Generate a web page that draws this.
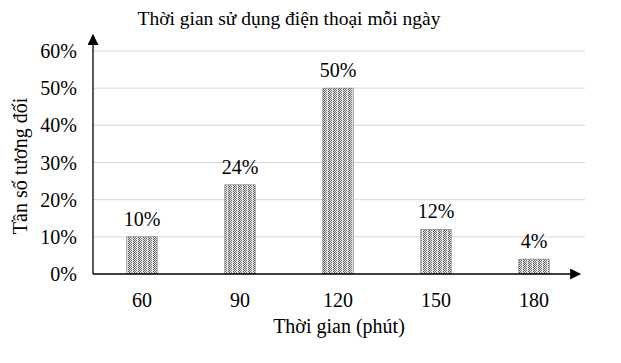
<!DOCTYPE html>
<html>
<head>
<meta charset="utf-8">
<script src="https://cdn.jsdelivr.net/npm/d3@7"></script>
<style>
  body { margin: 0; background: #fff; }
</style>
</head>
<body>
<div id="chart"></div>
<script>
const categories = ['60', '90', '120', '150', '180']
const values = [10, 24, 50, 12, 4]
const yTicks = [0, 10, 20, 30, 40, 50, 60]
const title = 'Thời gian sử dụng điện thoại mỗi ngày'
const xTitle = 'Thời gian (phút)'
const yTitle = 'Tần số tương đối'

const W = 621
const H = 363
const margin = { top: 51, left: 93, right: 36, bottom: 89 }
const width = W - margin.left - margin.right
const height = H - margin.top - margin.bottom
const serif = "'Liberation Serif', 'DejaVu Serif', serif"

const svg = d3
  .select('#chart')
  .append('svg')
  .attr('width', W)
  .attr('height', H)
  .attr('font-family', serif)

// checkered fill like the original
const defs = svg.append('defs')
const pat = defs
  .append('pattern')
  .attr('id', 'dots')
  .attr('patternUnits', 'userSpaceOnUse')
  .attr('width', 5)
  .attr('height', 2)
pat.append('rect').attr('width', 5).attr('height', 2).attr('fill', '#e6e6e6')
pat.append('rect').attr('x', 0).attr('y', 0).attr('width', 1).attr('height', 1).attr('fill', '#555')
pat.append('rect').attr('x', 1).attr('y', 1).attr('width', 1).attr('height', 1).attr('fill', '#555')
pat.append('rect').attr('x', 2).attr('y', 0).attr('width', 1).attr('height', 1).attr('fill', '#777')
pat.append('rect').attr('x', 3).attr('y', 1).attr('width', 1).attr('height', 1).attr('fill', '#777')

const g = svg
  .append('g')
  .attr('transform', `translate(${margin.left},${margin.top})`)

const x = d3
  .scaleBand()
  .domain(categories)
  .range([0, width - 2])
  .paddingInner(0.69)
  .paddingOuter(0.345)

const y = d3
  .scaleLinear()
  .domain([0, 60])
  .range([height, 0])

// gridlines
g.selectAll('.grid')
  .data(yTicks.filter(d => d > 0))
  .enter()
  .append('line')
  .attr('class', 'grid')
  .attr('x1', 0)
  .attr('x2', width)
  .attr('y1', d => y(d))
  .attr('y2', d => y(d))
  .attr('stroke', '#d9d9d9')
  .attr('stroke-width', 1)

// y tick labels
g.selectAll('.ytick')
  .data(yTicks)
  .enter()
  .append('text')
  .attr('class', 'ytick')
  .attr('x', -16)
  .attr('y', d => y(d))
  .attr('dy', '0.35em')
  .attr('text-anchor', 'end')
  .attr('font-family', serif)
  .attr('font-size', 20)
  .text(d => d + '%')

// bars
g.selectAll('.bar')
  .data(values)
  .enter()
  .append('rect')
  .attr('class', 'bar')
  .attr('x', (d, i) => x(categories[i]))
  .attr('y', d => y(d))
  .attr('width', x.bandwidth())
  .attr('height', d => height - y(d))
  .attr('fill', 'url(#dots)')
  .attr('stroke', '#777')
  .attr('stroke-width', 0.6)

// value labels
g.selectAll('.val')
  .data(values)
  .enter()
  .append('text')
  .attr('class', 'val')
  .attr('x', (d, i) => x(categories[i]) + x.bandwidth() / 2)
  .attr('y', d => y(d) - 11)
  .attr('text-anchor', 'middle')
  .attr('font-family', serif)
  .attr('font-size', 20)
  .text(d => d + '%')

// x tick labels
g.selectAll('.xtick')
  .data(categories)
  .enter()
  .append('text')
  .attr('class', 'xtick')
  .attr('x', d => x(d) + x.bandwidth() / 2)
  .attr('y', height + 33)
  .attr('text-anchor', 'middle')
  .attr('font-family', serif)
  .attr('font-size', 20)
  .text(d => d)

// axes with arrows
defs
  .append('marker')
  .attr('id', 'arrow')
  .attr('viewBox', '0 0 10 10')
  .attr('refX', 9)
  .attr('refY', 5)
  .attr('markerWidth', 11)
  .attr('markerHeight', 11)
  .attr('markerUnits', 'userSpaceOnUse')
  .attr('orient', 'auto')
  .append('path')
  .attr('d', 'M0,0 L10,5 L0,10 Z')
  .attr('fill', '#000')

g.append('line')
  .attr('x1', 0)
  .attr('x2', 0)
  .attr('y1', height)
  .attr('y2', -16)
  .attr('stroke', '#000')
  .attr('stroke-width', 1.3)
  .attr('marker-end', 'url(#arrow)')

g.append('line')
  .attr('x1', 0)
  .attr('x2', width - 5)
  .attr('y1', height)
  .attr('y2', height)
  .attr('stroke', '#000')
  .attr('stroke-width', 1.3)
  .attr('marker-end', 'url(#arrow)')

// titles
svg.append('text')
  .attr('x', 289)
  .attr('y', 25)
  .attr('text-anchor', 'middle')
  .attr('font-family', serif)
  .attr('font-size', 19.5)
  .text(title)

svg.append('text')
  .attr('x', 339)
  .attr('y', 333)
  .attr('text-anchor', 'middle')
  .attr('font-family', serif)
  .attr('font-size', 20)
  .text(xTitle)

svg.append('text')
  .attr('transform', `translate(27,166) rotate(-90)`)
  .attr('text-anchor', 'middle')
  .attr('font-family', serif)
  .attr('font-size', 20)
  .text(yTitle)
</script>
</body>
</html>
